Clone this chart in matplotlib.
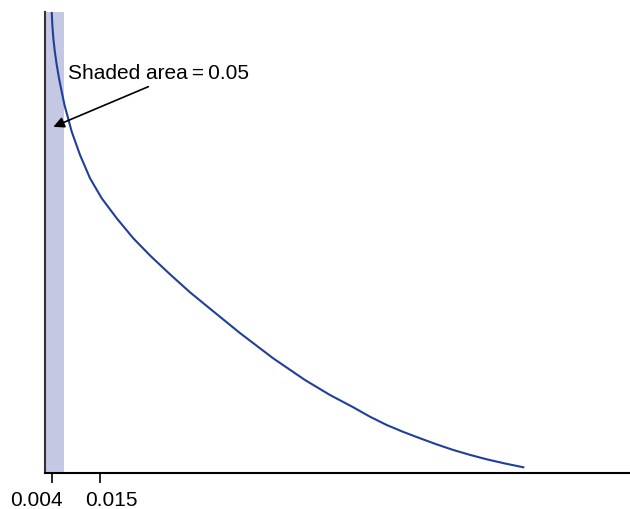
import matplotlib.pyplot as plt
from matplotlib.transforms import ScaledTranslation

plt.rcParams["font.family"] = ["Liberation Sans", "DejaVu Sans"]

# curve
x_vals = [0.00387, 0.00394, 0.00408, 0.00431, 0.00465, 0.00509, 0.00561,
          0.00623, 0.00687, 0.00852, 0.01043, 0.01272, 0.01540, 0.01884,
          0.02264, 0.02647, 0.03105, 0.03563, 0.03946, 0.04709, 0.05472,
          0.06198, 0.06771, 0.07305, 0.07688, 0.08071, 0.08453, 0.08834,
          0.09215, 0.09597, 0.09980, 0.10362, 0.10782, 0.11201]
y_vals = [1.0217, 1.0007, 0.9718, 0.9430, 0.9139, 0.8850, 0.8562,
          0.8271, 0.7983, 0.7404, 0.6898, 0.6393, 0.5959, 0.5525,
          0.5091, 0.4718, 0.4310, 0.3920, 0.3623, 0.3035, 0.2486,
          0.2017, 0.1692, 0.1425, 0.1221, 0.1041, 0.0890, 0.0753,
          0.0621, 0.0499, 0.0393, 0.0297, 0.0206, 0.0124]

shade_start = 0.0024
shade_end = 0.00676
tick_vals = [0.004, 0.015]
tick_labels = ["0.004", "0.015"]
label = "Shaded area\u2009=\u20090.05"

fig = plt.figure(figsize=(6.3, 5.09), dpi=100)
ax = fig.add_axes([45 / 630, 36 / 509, 585 / 630, 461 / 509])

ax.axvspan(shade_start, shade_end, color="#c5c8e3", lw=0, zorder=1)
ax.plot(x_vals, y_vals, color="#1f3f9a", lw=1.5, zorder=2)

ax.set_xlim(0.0024, 0.13646)
ax.set_ylim(0, 1)

ax.text(0.00775, 0.8547, label, fontsize=15, va="baseline", ha="left")
ax.annotate("", xy=(0.00431, 0.751), xytext=(0.02608, 0.838),
            arrowprops=dict(arrowstyle="-|>", color="black", lw=1.2,
                            mutation_scale=16, shrinkA=0, shrinkB=0))

ax.spines["top"].set_visible(False)
ax.spines["right"].set_visible(False)
ax.spines["left"].set_color("#333333")
ax.spines["left"].set_linewidth(1.5)
ax.spines["bottom"].set_linewidth(1.5)
ax.set_yticks([])
ax.set_xticks(tick_vals)
ax.set_xticklabels(tick_labels, fontsize=15)
ax.tick_params(axis="x", length=7, width=1.2, pad=6)

# labels are nudged apart so they don't collide
lbls = ax.get_xticklabels()
lbls[0].set_horizontalalignment("right")
lbls[0].set_transform(lbls[0].get_transform() + ScaledTranslation(0.107, 0, fig.dpi_scale_trans))
lbls[1].set_horizontalalignment("left")
lbls[1].set_transform(lbls[1].get_transform() + ScaledTranslation(-0.15, 0, fig.dpi_scale_trans))

fig.savefig("out.png", dpi=100)
